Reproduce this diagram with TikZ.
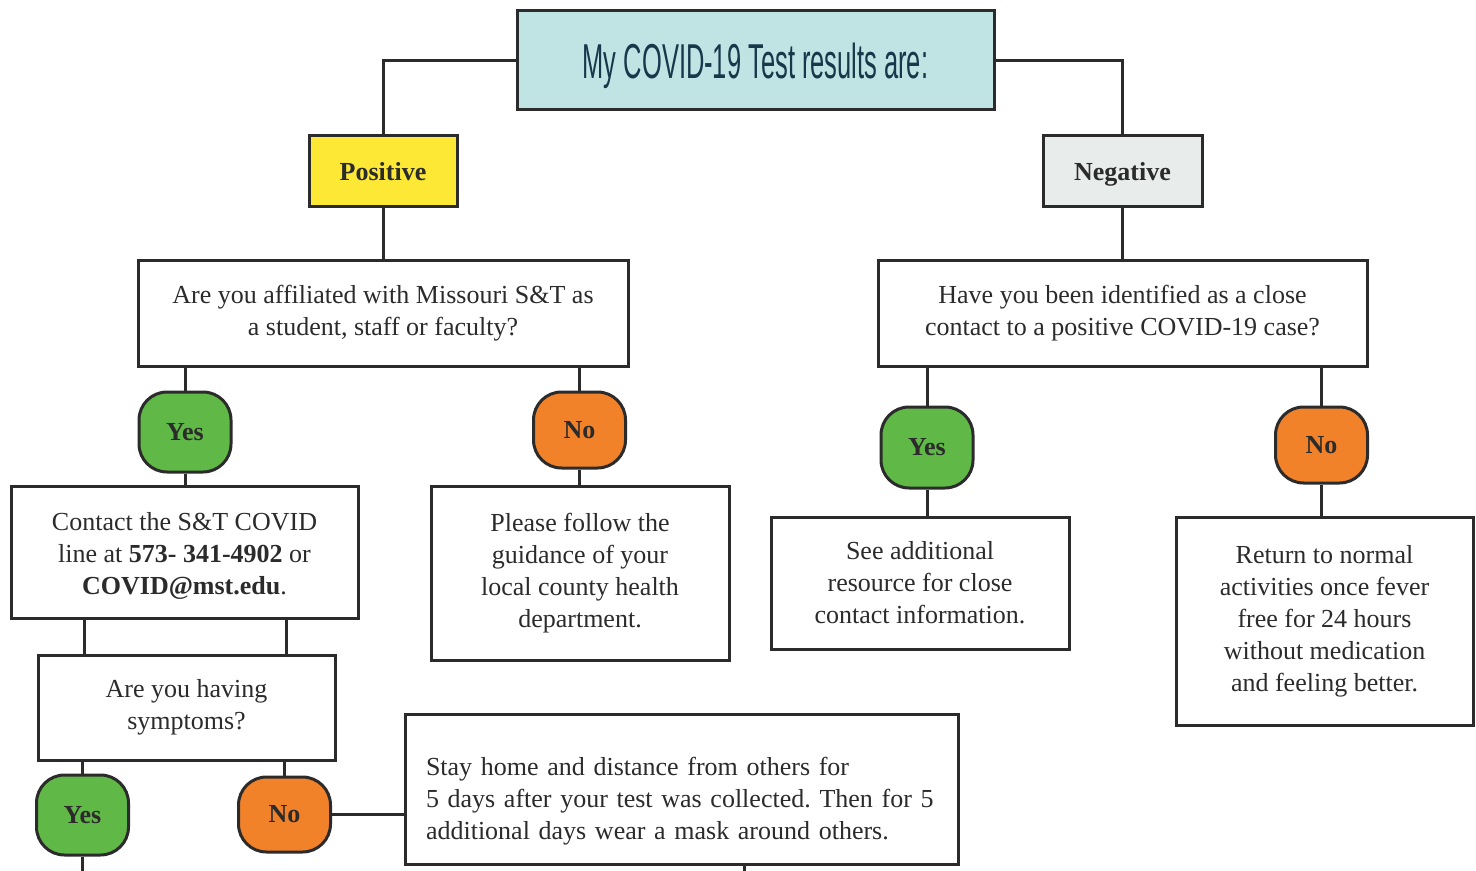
\documentclass[tikz,border=0pt]{standalone}
\usepackage{fontspec}
\usepackage{graphicx}
\setmainfont{Liberation Serif}
\newfontfamily\titlefont{Liberation Sans}
\usetikzlibrary{calc}
\definecolor{ink}{HTML}{2B2B2B}
\definecolor{navy}{HTML}{17374A}
\definecolor{tealbg}{HTML}{C0E4E4}
\definecolor{posyellow}{HTML}{FCE835}
\definecolor{neggray}{HTML}{E8ECEB}
\definecolor{yesgreen}{HTML}{60B946}
\definecolor{noorange}{HTML}{F2822A}
\frenchspacing
\begin{document}
\begin{tikzpicture}[x=0.5pt,y=-0.5pt,
  box/.style={draw=ink, line width=1.5pt, fill=white, inner sep=0pt, align=center, text=ink, font=\fontsize{13}{16}\selectfont\frenchspacing},
  label box/.style={box, minimum height=35.5pt, text height=9pt, text depth=0pt, font=\fontsize{13}{16}\selectfont\bfseries},
  pill/.style={draw=ink, line width=1.5pt, rounded corners=14pt, inner sep=0pt, text=ink, font=\fontsize{13}{16}\selectfont\bfseries, minimum width=46pt},
  yespill/.style={pill, fill=yesgreen},
  nopill/.style={pill, fill=noorange},
  link/.style={draw=ink, line width=1.5pt}]
\useasboundingbox (0,0) rectangle (1476,871);

% nodes
\node[box, fill=tealbg, minimum width=238.5pt, minimum height=49.5pt, text=navy, font=\titlefont\fontsize{24.5}{25}\selectfont] (title) at (755.5,60.5) {\raisebox{-2.5pt}[\height][\depth]{\scalebox{0.52}[1]{My COVID-19 Test results are:}}};
\node[label box, fill=posyellow, minimum width=74pt] (pos) at (383,171.5) {Positive};
\node[label box, fill=neggray, minimum width=79.5pt] (neg) at (1122.5,171.5) {Negative};

\node[box, minimum width=245pt, minimum height=52.5pt] (q1) at (383,313.5) {Are you affiliated with Missouri S\&T as\\a student, staff or faculty?};
\node[box, minimum width=244.5pt, minimum height=52.5pt] (q2) at (1122.5,313.5) {Have you been identified as a close\\contact to a positive COVID-19 case?};

\node[yespill, minimum height=40pt] (yes1) at (185,432) {Yes};
\node[nopill, minimum height=38pt] (no1) at (579.5,430) {No};
\node[yespill, minimum height=40.5pt] (yes2) at (927,447.5) {Yes};
\node[nopill, minimum height=38pt] (no2) at (1321.5,445) {No};

\node[box, minimum width=173.5pt, minimum height=66pt] (c1) at (184.5,552) {\rule{0pt}{13pt}Contact the S\&T COVID\\line at \textbf{573- 341-4902} or\\\textbf{COVID@mst.edu}.};
\node[box, minimum width=149pt, minimum height=87pt] (p1) at (580,573) {Please follow the\\guidance of your\\local county health\\department.};
\node[box, minimum width=149pt, minimum height=66pt] (s1) at (920,583) {See additional\\resource for close\\contact information.};
\node[box, minimum width=148.5pt, minimum height=104pt] (r1) at (1324.5,621) {Return to normal\\activities once fever\\free for 24 hours\\without medication\\and feeling better.};

\node[box, minimum width=148.5pt, minimum height=52.5pt] (sym) at (186.5,707.5) {Are you having\\symptoms?};
\node[yespill, minimum height=40pt] (yes3) at (82.5,815) {Yes};
\node[nopill, minimum height=37.5pt] (no3) at (284.5,814.5) {No};

\node[box, minimum width=276.5pt, minimum height=75pt, align=left, text width=255.5pt, inner xsep=10.5pt] (stay) at (681.5,789) {\begin{tabular}{@{}l@{}}\rule{0pt}{23pt}Stay home and distance from others for\\5 days after your test was collected. Then for 5\\additional days wear a mask around others.\end{tabular}};

\coordinate (edge1) at (83.5,871);
\coordinate (edge2) at (744,871);

% connectors
\draw[link] (title.west) -| (pos.north);
\draw[link] (title.east) -| (neg.north);
\draw[link] (pos.south) -- (pos.south |- q1.north);
\draw[link] (neg.south) -- (neg.south |- q2.north);
\draw[link] (yes1.north) -- (yes1.north |- q1.south);
\draw[link] (yes1.south) -- (yes1.south |- c1.north);
\draw[link] (no1.north) -- (no1.north |- q1.south);
\draw[link] (no1.south) -- (no1.south |- p1.north);
\draw[link] (yes2.north) -- (yes2.north |- q2.south);
\draw[link] (yes2.south) -- (yes2.south |- s1.north);
\draw[link] (no2.north) -- (no2.north |- q2.south);
\draw[link] (no2.south) -- (no2.south |- r1.north);
\draw[link] ([xshift=-51.25pt]sym.north) -- ([xshift=-51.25pt]sym.north |- c1.south);
\draw[link] ([xshift=49.75pt]sym.north) -- ([xshift=49.75pt]sym.north |- c1.south);
\draw[link] (yes3.north) -- (yes3.north |- sym.south);
\draw[link] (no3.north) -- (no3.north |- sym.south);
\draw[link] (yes3.south) -- (yes3.south |- edge1);
\draw[link] (no3.east) -- (no3.east -| stay.west);
\draw[link] (stay.south -| edge2) -- (edge2);
\end{tikzpicture}
\end{document}
